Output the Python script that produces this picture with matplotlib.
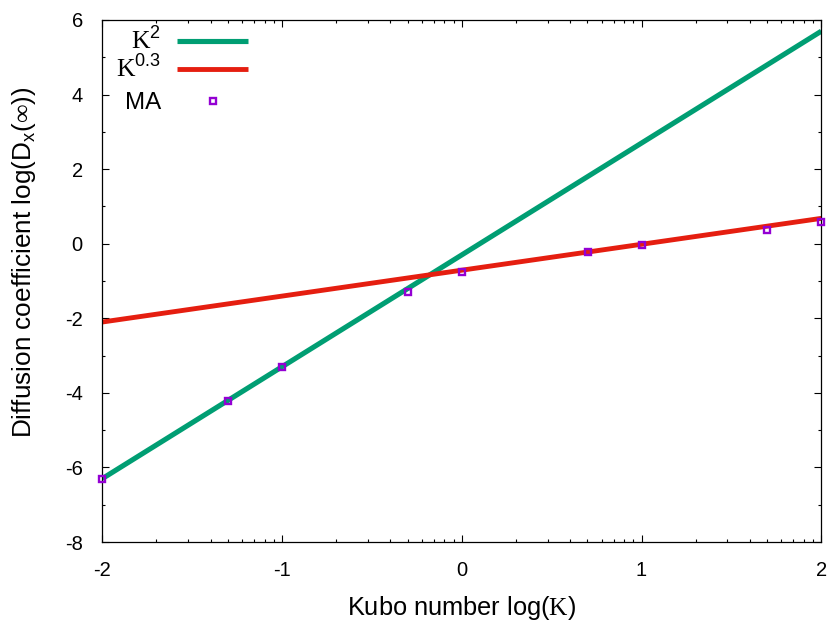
import matplotlib
matplotlib.use('Agg')
import matplotlib.pyplot as plt
import numpy as np
from matplotlib.ticker import MultipleLocator, FixedLocator

plt.rcParams['font.family'] = ['Liberation Sans', 'DejaVu Sans']
plt.rcParams['mathtext.fontset'] = 'custom'
plt.rcParams['mathtext.rm'] = 'Liberation Serif'
plt.rcParams['mathtext.sf'] = 'Liberation Sans'
plt.rcParams['mathtext.it'] = 'Liberation Sans:italic'
plt.rcParams['mathtext.bf'] = 'Liberation Sans:bold'

# ---- data (log10 K, log10 D) ----
line_x = [-2.0, 2.0]
k2_y = [-6.3, 5.7]
k03_y = [-2.1, 0.68]
ma_x = [-2.0, -1.3, -1.0, -0.3, 0.0, 0.7, 1.0, 1.7, 2.0]
ma_y = [-6.3, -4.21, -3.31, -1.29, -0.76, -0.22, -0.04, 0.37, 0.57]

labels = [r'$\mathrm{K}^{\mathsf{2}}$', r'$\mathrm{K}^{\mathsf{0.3}}$', 'MA']
x_ticks = [-2, -1, 0, 1, 2]
y_ticks = [-8, -6, -4, -2, 0, 2, 4, 6]

GREEN = '#009e73'
RED = '#e51e10'
PURPLE = '#9400d3'

fig = plt.figure(figsize=(8.27, 6.30), dpi=100)
ax = fig.add_axes([102.3 / 827, (630 - 542) / 630, (821.3 - 102.3) / 827, (542 - 20) / 630])

l1, = ax.plot(line_x, k2_y, color=GREEN, lw=3.7, solid_capstyle='butt', label=labels[0], zorder=2)
l2, = ax.plot(line_x, k03_y, color=RED, lw=3.5, solid_capstyle='butt', label=labels[1], zorder=2)
l3, = ax.plot(ma_x, ma_y, ls='none', marker='s', ms=4.8, mew=1.7, mec=PURPLE, mfc='none',
              label=labels[2], zorder=3, clip_on=False)

ax.set_xlim(-2, 2)
ax.set_ylim(-8, 6)
ax.set_xticks(x_ticks)
ax.set_yticks(y_ticks)
ax.set_xticklabels([str(t) for t in x_ticks])
ax.set_yticklabels([str(t) for t in y_ticks])
minor_x = [d + np.log10(k) for d in range(-2, 2) for k in range(2, 10)]
ax.xaxis.set_minor_locator(FixedLocator(minor_x))
ax.yaxis.set_minor_locator(MultipleLocator(1))

ax.tick_params(which='both', direction='in', top=True, right=True, labelsize=14.5, color='black')
ax.tick_params(which='major', length=5, width=0.8)
ax.tick_params(which='minor', length=2.5, width=0.8)
ax.tick_params(axis='x', which='major', pad=14)
ax.tick_params(axis='y', which='major', pad=14)
for s in ax.spines.values():
    s.set_linewidth(0.9)

ax.set_xlabel(r'Kubo number log($\mathrm{K}$)', fontsize=18.3)
ax.set_ylabel(r'Diffusion coefficient log(D$_{\mathsf{x}}$($\infty$))', fontsize=18.8)
ax.xaxis.set_label_coords(0.5, -0.10)
ax.yaxis.set_label_coords(-0.090, 0.535)

leg_kw = dict(markerfirst=False, frameon=False, borderaxespad=0.0, borderpad=0.0)
leg1 = ax.legend([l1, l2], labels[:2], loc='upper right', bbox_to_anchor=(0.2026, 0.986),
                 fontsize=18.5, labelspacing=0.05, handlelength=2.76, handletextpad=0.62,
                 **leg_kw)
ax.add_artist(leg1)
ax.legend([l3], labels[2:], loc='upper right', bbox_to_anchor=(0.2026, 0.862),
          fontsize=17.4, handlelength=2.93, handletextpad=0.66, **leg_kw)

fig.savefig('out.png', dpi=100)
